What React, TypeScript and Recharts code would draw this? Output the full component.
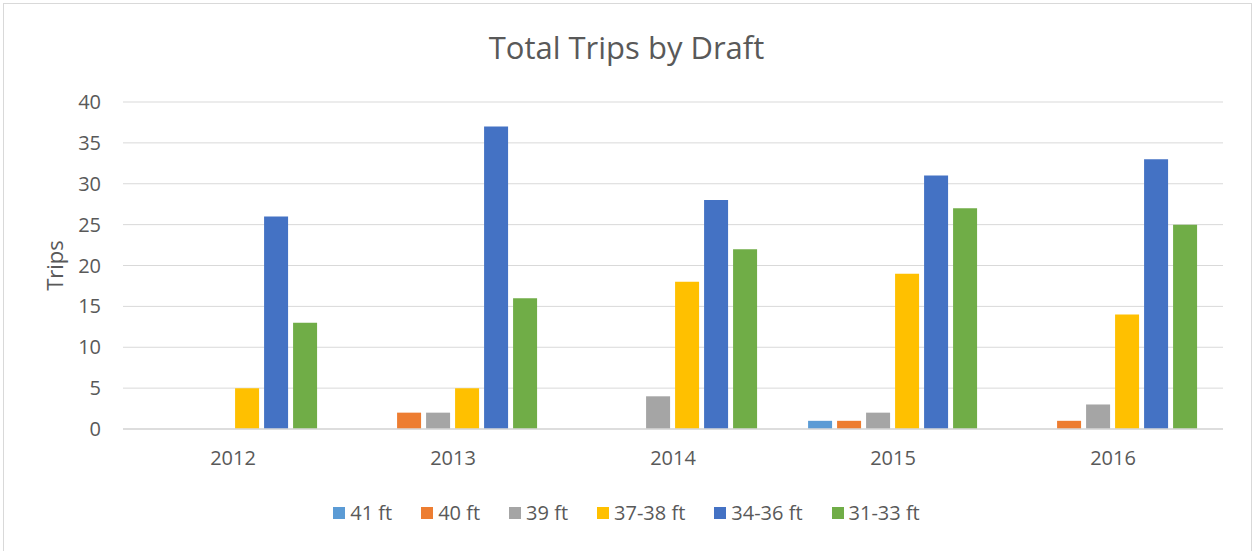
import { Bar, BarChart, CartesianGrid, Legend, XAxis, YAxis } from "recharts";

const years = ["2012", "2013", "2014", "2015", "2016"];

const ft41 = [0, 0, 0, 1, 0];
const ft40 = [0, 2, 0, 1, 1];
const ft39 = [0, 2, 4, 2, 3];
const ft37to38 = [5, 5, 18, 19, 14];
const ft34to36 = [26, 37, 28, 31, 33];
const ft31to33 = [13, 16, 22, 27, 25];

const yTicks = [0, 5, 10, 15, 20, 25, 30, 35, 40];

const series = [
  { key: "ft41", name: "41 ft", color: "#5B9BD5", values: ft41 },
  { key: "ft40", name: "40 ft", color: "#ED7D31", values: ft40 },
  { key: "ft39", name: "39 ft", color: "#A5A5A5", values: ft39 },
  { key: "ft37to38", name: "37-38 ft", color: "#FFC000", values: ft37to38 },
  { key: "ft34to36", name: "34-36 ft", color: "#4472C4", values: ft34to36 },
  { key: "ft31to33", name: "31-33 ft", color: "#70AD47", values: ft31to33 },
];

const data = years.map((year, i) => {
  const row: Record<string, string | number> = { year };
  series.forEach((s) => {
    row[s.key] = s.values[i];
  });
  return row;
});

const FONT = "'Open Sans', sans-serif";
const TEXT = "#595959";

function DraftLegend() {
  return (
    <div
      style={{
        display: "flex",
        justifyContent: "center",
        gap: 29,
        fontFamily: FONT,
        fontSize: 20,
        color: TEXT,
        height: 24,
        lineHeight: "24px",
      }}
    >
      {series.map((s) => (
        <span key={s.key} style={{ display: "flex", alignItems: "center" }}>
          <span style={{ width: 12, height: 12, background: s.color, marginRight: 5 }} />
          {s.name}
        </span>
      ))}
    </div>
  );
}

export default function App() {
  return (
    <div style={{ position: "relative", width: 1253, height: 551, overflow: "hidden", background: "#fff" }}>
      <style>{"body{margin:0}"}</style>
      <div
        style={{
          position: "absolute",
          left: 3,
          top: 3,
          width: 1247,
          height: 600,
          border: "1px solid #d9d9d9",
        }}
      />
      <div
        style={{
          position: "absolute",
          top: 27,
          width: "100%",
          textAlign: "center",
          fontFamily: FONT,
          fontSize: 31,
          color: TEXT,
          lineHeight: "40px",
        }}
      >
        Total Trips by Draft
      </div>
      <div style={{ position: "absolute", left: 0, top: 0 }}>
        <BarChart
          width={1253}
          height={551}
          data={data}
          margin={{ top: 102, right: 30, left: 0, bottom: 0 }}
          barCategoryGap="11.4%"
          barGap={5}
        >
          <CartesianGrid vertical={false} stroke="#d9d9d9" />
          <XAxis
            dataKey="year"
            height={98}
            tickLine={false}
            tickSize={0}
            tickMargin={22}
            axisLine={{ stroke: "#d9d9d9", strokeWidth: 1.5 }}
            tick={{ fill: TEXT, fontSize: 20, fontFamily: FONT }}
          />
          <YAxis
            width={123}
            domain={[0, 40]}
            ticks={yTicks}
            tickLine={false}
            axisLine={false}
            tickSize={0}
            tickMargin={22}
            tick={{ fill: TEXT, fontSize: 20, fontFamily: FONT }}
            label={{
              value: "Trips",
              angle: -90,
              position: "insideLeft",
              dx: 50,
              style: { fill: TEXT, fontSize: 22, fontFamily: FONT, textAnchor: "middle" },
            }}
          />
          <Legend content={<DraftLegend />} wrapperStyle={{ top: 501, left: 0, width: 1253 }} />
          {series.map((s) => (
            <Bar key={s.key} dataKey={s.key} name={s.name} fill={s.color} isAnimationActive={false} />
          ))}
        </BarChart>
      </div>
    </div>
  );
}
